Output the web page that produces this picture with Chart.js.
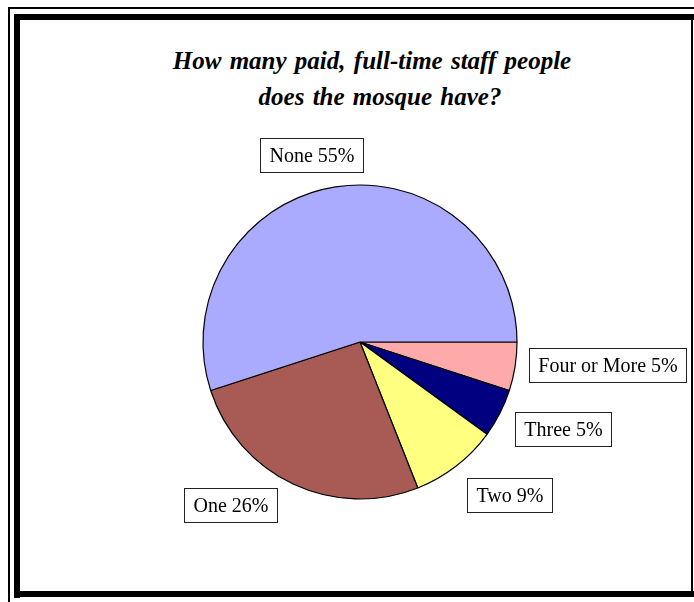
<!DOCTYPE html>
<html>
<head>
<meta charset="utf-8">
<script src="https://cdn.jsdelivr.net/npm/chart.js@4.4.0/dist/chart.umd.min.js"></script>
<style>
    body { margin: 0; background: #fff; }
    #wrap { position: relative; width: 694px; height: 602px; overflow: hidden; }
    .ln { position: absolute; background: #000; }
    .ttl { position: absolute; width: 600px; text-align: center; white-space: nowrap;
        font-family: 'Liberation Serif', 'Times New Roman', serif; font-weight: bold; font-style: italic;
        font-size: 25px; line-height: 36px; word-spacing: 2px; }
    canvas { position: absolute; left: 0; top: 0; }
</style>
</head>
<body>
<div id="wrap">
    <div class="ln" style="left:8px;top:7px;width:686px;height:2px"></div>
    <div class="ln" style="left:8px;top:7px;width:2px;height:595px"></div>
    <div class="ln" style="left:14px;top:14px;width:680px;height:6px"></div>
    <div class="ln" style="left:14px;top:14px;width:6px;height:584px"></div>
    <div class="ln" style="left:14px;top:591px;width:680px;height:6px"></div>
    <div class="ln" style="left:691px;top:14px;width:2px;height:583px"></div>
    <div class="ttl" style="left:72px;top:43px">How many paid, full-time staff people</div>
    <div class="ttl" style="left:80px;top:79px">does the mosque have?</div>
    <canvas id="chart-staff" width="694" height="602"></canvas>
</div>
<script>
// drawn clockwise from 3 o'clock, so smallest slices come first
const categories = ['Four or More', 'Three', 'Two', 'One', 'None'];
const percents = [5, 5, 9, 26, 55];
const sliceColors = ['#FFAAAA', '#000080', '#FFFF80', '#A85A55', '#AAAAFF'];

// small nudges so the boxes sit where Excel put them
const labelNudge = [[-5, -7], [3, -1], [15, 0], [-34, -13], [-13, 5]];

const labelBoxes = {
    id: 'labelBoxes',
    afterDatasetsDraw(chart) {
        const ctx = chart.ctx;
        const arcs = chart.getDatasetMeta(0).data;
        ctx.save();
        ctx.font = '20px "Liberation Serif", "Times New Roman", serif';
        ctx.textAlign = 'center';
        ctx.textBaseline = 'middle';
        arcs.forEach(function (arc, i) {
            const mid = (arc.startAngle + arc.endAngle) / 2;
            const text = categories[i] + ' ' + percents[i] + '%';
            const w = Math.round(ctx.measureText(text).width) + 18;
            const h = 34;
            const r = arc.outerRadius + 20;
            const cx = arc.x + Math.cos(mid) * r + Math.cos(mid) * w / 2 + labelNudge[i][0];
            const cy = arc.y + Math.sin(mid) * r + Math.sin(mid) * h / 2 + labelNudge[i][1];
            const x0 = Math.round(cx - w / 2) + 0.5;
            const y0 = Math.round(cy - h / 2) + 0.5;
            ctx.fillStyle = '#fff';
            ctx.fillRect(x0, y0, w, h);
            ctx.strokeStyle = '#222';
            ctx.lineWidth = 1;
            ctx.strokeRect(x0, y0, w, h);
            ctx.fillStyle = '#000';
            ctx.fillText(text, x0 + w / 2, y0 + h / 2 + 1);
        });
        ctx.restore();
    }
};

const ctx = document.getElementById('chart-staff').getContext('2d');
const myChart = new Chart(ctx, {
    type: 'pie',
    data: {
        labels: categories,
        datasets: [{
            label: 'Paid full-time staff',
            data: percents,
            backgroundColor: sliceColors,
            borderColor: '#000',
            borderWidth: 1.2,
            hoverOffset: 0
        }]
    },
    options: {
        responsive: false,
        animation: false,
        rotation: 90,
        radius: 157,
        layout: {
            padding: { left: 40, right: 14, top: 100, bottom: 18 }
        },
        plugins: {
            legend: { display: false },
            tooltip: { enabled: false },
            title: { display: false }
        }
    },
    plugins: [labelBoxes]
});
</script>
</body>
</html>
